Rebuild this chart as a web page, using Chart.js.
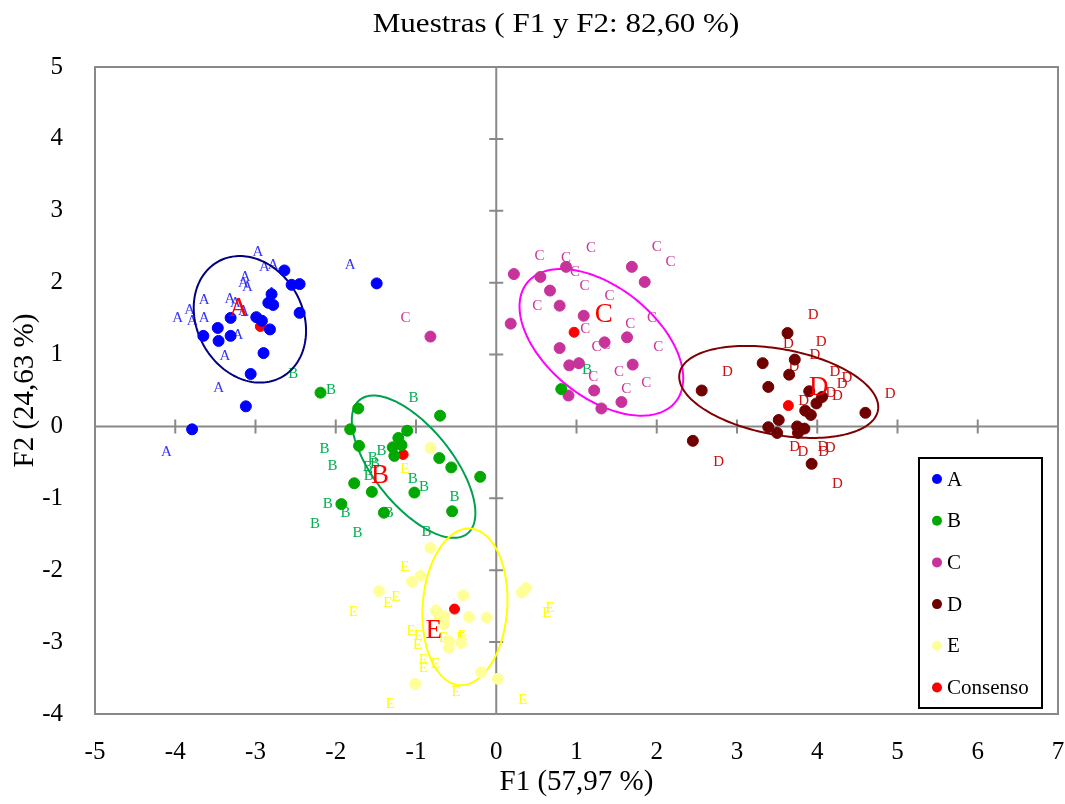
<!DOCTYPE html>
<html>
<head>
<meta charset="utf-8">
<title>Muestras</title>
<script src="https://cdn.jsdelivr.net/npm/chart.js@4.4.0/dist/chart.umd.min.js"></script>
<style>
  html, body { margin: 0; padding: 0; background: #fff; overflow: hidden; }
  canvas { display: block; }
</style>
</head>
<body>
<canvas id="grafico" width="1065" height="804"></canvas>
<script>
// coordenadas (F1, F2) de las observaciones de cada muestra
var puntosA = [[-2.64,2.17],[-2.55,1.97],[-2.45,1.98],[-2.80,1.84],[-2.84,1.72],[-2.78,1.69],[-2.45,1.58],[-3.31,1.51],[-2.99,1.52],[-2.92,1.47],[-2.82,1.35],[-3.47,1.37],[-3.65,1.26],[-3.46,1.19],[-3.31,1.26],[-2.90,1.02],[-3.06,0.73],[-3.12,0.28],[-1.49,1.99],[-3.79,-0.04]];
var puntosB = [[-2.19,0.47],[-1.72,0.25],[-0.70,0.15],[-1.82,-0.04],[-1.11,-0.06],[-1.71,-0.27],[-1.22,-0.16],[-1.18,-0.26],[-1.29,-0.29],[-1.27,-0.41],[-0.71,-0.44],[-0.56,-0.57],[-0.20,-0.70],[-1.77,-0.79],[-1.55,-0.91],[-1.02,-0.92],[-1.93,-1.08],[-1.40,-1.20],[-0.55,-1.18],[0.81,0.52]];
var puntosC = [[0.87,2.22],[1.69,2.22],[0.22,2.12],[0.55,2.08],[1.85,2.01],[0.67,1.89],[0.79,1.68],[1.09,1.54],[0.18,1.43],[1.35,1.17],[1.63,1.24],[0.79,1.09],[0.91,0.85],[1.03,0.88],[1.70,0.86],[1.22,0.50],[0.90,0.43],[1.56,0.34],[1.31,0.25],[-0.82,1.25]];
var puntosD = [[3.63,1.30],[3.32,0.88],[3.72,0.93],[3.65,0.72],[2.56,0.50],[3.39,0.55],[3.90,0.49],[4.06,0.41],[3.99,0.32],[3.85,0.22],[3.92,0.16],[4.60,0.19],[3.52,0.09],[3.39,-0.01],[3.50,-0.09],[3.75,0.00],[3.84,-0.03],[3.76,-0.09],[2.45,-0.20],[3.93,-0.52]];
var puntosE = [[-0.82,-0.30],[-0.82,-1.69],[-0.94,-2.08],[-1.05,-2.16],[-1.46,-2.29],[-0.41,-2.35],[0.32,-2.31],[0.37,-2.25],[-0.75,-2.56],[-0.65,-2.64],[-0.65,-2.75],[-0.34,-2.65],[-0.12,-2.66],[-0.59,-2.98],[-0.59,-3.08],[-0.44,-3.01],[-0.19,-3.42],[0.02,-3.51],[-1.01,-3.58]];
var consenso = [[-2.94,1.39],[-1.16,-0.39],[0.97,1.31],[3.64,0.29],[-0.52,-2.54]];

// etiquetas de los evaluadores
var letrasA = [[-2.97,2.42],[-2.89,2.22],[-2.78,2.25],[-3.13,2.08],[-3.15,1.99],[-3.10,1.94],[-2.80,1.85],[-3.64,1.76],[-3.32,1.77],[-3.25,1.71],[-3.15,1.61],[-3.82,1.62],[-3.97,1.51],[-3.79,1.46],[-3.64,1.51],[-3.22,1.27],[-3.38,0.98],[-3.46,0.54],[-1.82,2.24],[-4.11,-0.36]];
var letrasB = [[-2.53,0.73],[-2.06,0.51],[-1.03,0.40],[-2.14,-0.31],[-2.04,-0.55],[-1.43,-0.34],[-1.54,-0.44],[-1.51,-0.53],[-1.60,-0.57],[-1.59,-0.69],[-1.04,-0.73],[-0.90,-0.85],[-0.52,-0.98],[-2.10,-1.08],[-1.88,-1.20],[-1.34,-1.20],[-2.26,-1.36],[-1.73,-1.49],[-0.87,-1.47],[1.13,0.79]];
var letrasC = [[0.54,2.37],[0.87,2.34],[0.98,2.15],[1.18,2.48],[2.00,2.49],[2.17,2.28],[1.10,1.95],[1.41,1.81],[0.51,1.68],[1.94,1.51],[1.67,1.43],[1.11,1.35],[1.25,1.11],[1.36,1.13],[2.02,1.11],[1.21,0.69],[1.53,0.75],[1.87,0.60],[1.62,0.52],[-1.13,1.51]];
var letrasD = [[3.95,1.55],[3.64,1.15],[4.05,1.18],[3.97,0.99],[3.71,0.82],[2.88,0.76],[4.22,0.75],[4.37,0.67],[4.31,0.59],[4.91,0.45],[4.17,0.46],[4.25,0.42],[3.83,0.36],[3.72,-0.29],[3.82,-0.36],[4.07,-0.29],[4.08,-0.36],[4.16,-0.30],[2.77,-0.49],[4.25,-0.80]];
var letrasE = [[-1.14,-0.59],[-1.14,-1.96],[-1.35,-2.45],[-1.25,-2.38],[-1.78,-2.58],[0.63,-2.60],[0.67,-2.53],[-0.73,-2.63],[-1.06,-2.85],[-0.97,-2.91],[-0.98,-3.04],[-0.66,-2.94],[-0.44,-2.94],[-0.42,-2.92],[-0.91,-3.25],[-0.91,-3.36],[-0.76,-3.30],[-0.50,-3.70],[0.33,-3.80],[-1.32,-3.86]];

// centroides (etiqueta grande) y elipses de confianza: centro, semiejes y correlacion
var centroides = [[-3.21,1.63],[-1.45,-0.69],[1.34,1.55],[4.02,0.54],[-0.78,-2.84]];
var elipses = [
  {cx: -3.07, cy: 1.49, w: 0.70, h: 0.88, r: -0.18},
  {cx: -1.03, cy: -0.56, w: 0.77, h: 0.99, r: -0.65},
  {cx: 1.31, cy: 1.17, w: 1.02, h: 1.02, r: -0.49},
  {cx: 3.52, cy: 0.48, w: 1.24, h: 0.64, r: -0.33},
  {cx: -0.39, cy: -2.51, w: 0.53, h: 1.09, r: 0.09}
];

var muestras = ['A', 'B', 'C', 'D', 'E'];
var colPuntos = ['#0000ff', '#00a800', '#c8329b', '#700000', '#ffff99'];
var colLetras = ['#3333ff', '#00b050', '#cc3399', '#cc1010', '#ffff00'];
var colElipses = ['#000080', '#00a050', '#ff00ff', '#800000', '#ffff00'];
var letras = [letrasA, letrasB, letrasC, letrasD, letrasE];
var puntos = [puntosA, puntosB, puntosC, puntosD, puntosE];

var serif = '"Liberation Serif", "Times New Roman", serif';
var gris = '#898989';

function aXY(lista) {
  return lista.map(function (p) { return {x: p[0], y: p[1]}; });
}

var datasets = muestras.map(function (m, i) {
  return {
    label: m,
    data: aXY(puntos[i]),
    backgroundColor: colPuntos[i],
    borderColor: colPuntos[i],
    pointRadius: 5.5,
    pointHoverRadius: 5.5
  };
});
datasets.push({
  label: 'Consenso',
  data: aXY(consenso),
  backgroundColor: '#ff0000',
  borderColor: '#ff0000',
  pointRadius: 5,
  pointHoverRadius: 5
});

var fondo = {
  id: 'fondo',
  beforeDatasetsDraw: function (chart) {
    var ctx = chart.ctx, a = chart.chartArea;
    var x = chart.scales.x, y = chart.scales.y;
    var x0 = x.getPixelForValue(0), y0 = y.getPixelForValue(0);
    ctx.save();
    ctx.strokeStyle = gris;
    ctx.lineWidth = 2;
    ctx.strokeRect(a.left, a.top, a.right - a.left, a.bottom - a.top);
    ctx.beginPath();
    ctx.moveTo(x0, a.top); ctx.lineTo(x0, a.bottom);
    ctx.moveTo(a.left, y0); ctx.lineTo(a.right, y0);
    x.ticks.forEach(function (t) {
      var px = x.getPixelForValue(t.value);
      ctx.moveTo(px, y0 - 7); ctx.lineTo(px, y0 + 7);
    });
    y.ticks.forEach(function (t) {
      var py = y.getPixelForValue(t.value);
      ctx.moveTo(x0 - 7, py); ctx.lineTo(x0 + 7, py);
    });
    ctx.stroke();

    // letras de los evaluadores
    ctx.font = '15px ' + serif;
    ctx.textAlign = 'center';
    ctx.textBaseline = 'middle';
    letras.forEach(function (lista, i) {
      ctx.fillStyle = colLetras[i];
      lista.forEach(function (p) {
        ctx.fillText(muestras[i], x.getPixelForValue(p[0]), y.getPixelForValue(p[1]));
      });
    });

    // elipses
    ctx.lineWidth = 2;
    elipses.forEach(function (e, i) {
      ctx.strokeStyle = colElipses[i];
      ctx.beginPath();
      for (var k = 0; k <= 180; k++) {
        var t = k / 180 * 2 * Math.PI;
        var vx = e.cx + e.w * Math.cos(t);
        var vy = e.cy + e.h * (e.r * Math.cos(t) + Math.sqrt(1 - e.r * e.r) * Math.sin(t));
        var px = x.getPixelForValue(vx), py = y.getPixelForValue(vy);
        if (k === 0) ctx.moveTo(px, py); else ctx.lineTo(px, py);
      }
      ctx.closePath();
      ctx.stroke();
    });
    ctx.restore();
  },
  afterDatasetsDraw: function (chart) {
    var ctx = chart.ctx;
    var x = chart.scales.x, y = chart.scales.y;
    ctx.save();
    ctx.font = '27px ' + serif;
    ctx.fillStyle = '#ff0000';
    ctx.textAlign = 'center';
    ctx.textBaseline = 'middle';
    centroides.forEach(function (p, i) {
      ctx.fillText(muestras[i], x.getPixelForValue(p[0]), y.getPixelForValue(p[1]));
    });
    ctx.restore();
  },
  afterDraw: function (chart) {
    var ctx = chart.ctx, a = chart.chartArea;
    ctx.save();
    // titulo (algo ensanchado, como en el original)
    ctx.fillStyle = '#000';
    ctx.font = '27px ' + serif;
    ctx.textAlign = 'center';
    ctx.textBaseline = 'middle';
    ctx.translate(556, 25);
    ctx.scale(1.15, 1);
    ctx.fillText('Muestras ( F1 y F2: 82,60 %)', 0, 0);
    ctx.setTransform(1, 0, 0, 1, 0, 0);

    // leyenda
    var ds = chart.data.datasets;
    var lx = a.right - 139, ly = a.bottom - 256;
    ctx.fillStyle = '#fff';
    ctx.fillRect(lx, ly, 123, 250);
    ctx.strokeStyle = '#000';
    ctx.lineWidth = 2;
    ctx.strokeRect(lx, ly, 123, 250);
    ctx.font = '21px ' + serif;
    ctx.textAlign = 'left';
    ds.forEach(function (d, i) {
      var cy = ly + 21 + i * 41.7;
      ctx.fillStyle = d.backgroundColor;
      ctx.beginPath();
      ctx.arc(lx + 18, cy, 5, 0, 2 * Math.PI);
      ctx.fill();
      ctx.fillStyle = '#000';
      ctx.fillText(d.label, lx + 28, cy + 1);
    });
    ctx.restore();
  }
};

new Chart(document.getElementById('grafico').getContext('2d'), {
  type: 'scatter',
  data: {datasets: datasets},
  options: {
    responsive: false,
    animation: false,
    layout: {padding: {top: 67, right: 7, bottom: 0, left: 0}},
    plugins: {
      legend: {display: false},
      tooltip: {enabled: false}
    },
    scales: {
      x: {
        type: 'linear', min: -5, max: 7,
        ticks: {stepSize: 1, color: '#000', font: {family: serif, size: 25}, padding: 15},
        grid: {display: false},
        border: {display: false},
        title: {display: true, text: 'F1 (57,97 %)', color: '#000', font: {family: serif, size: 29}, padding: {top: 0, bottom: 4}},
        afterFit: function (s) { s.height = 90; s.paddingLeft = 0; s.paddingRight = 0; }
      },
      y: {
        type: 'linear', min: -4, max: 5,
        ticks: {stepSize: 1, color: '#000', font: {family: serif, size: 25}, padding: 24},
        grid: {display: false},
        border: {display: false},
        title: {display: true, text: 'F2 (24,63 %)', color: '#000', font: {family: serif, size: 29}, padding: {top: 8, bottom: 0}},
        afterFit: function (s) { s.width = 95; }
      }
    }
  },
  plugins: [fondo]
});
</script>
</body>
</html>
